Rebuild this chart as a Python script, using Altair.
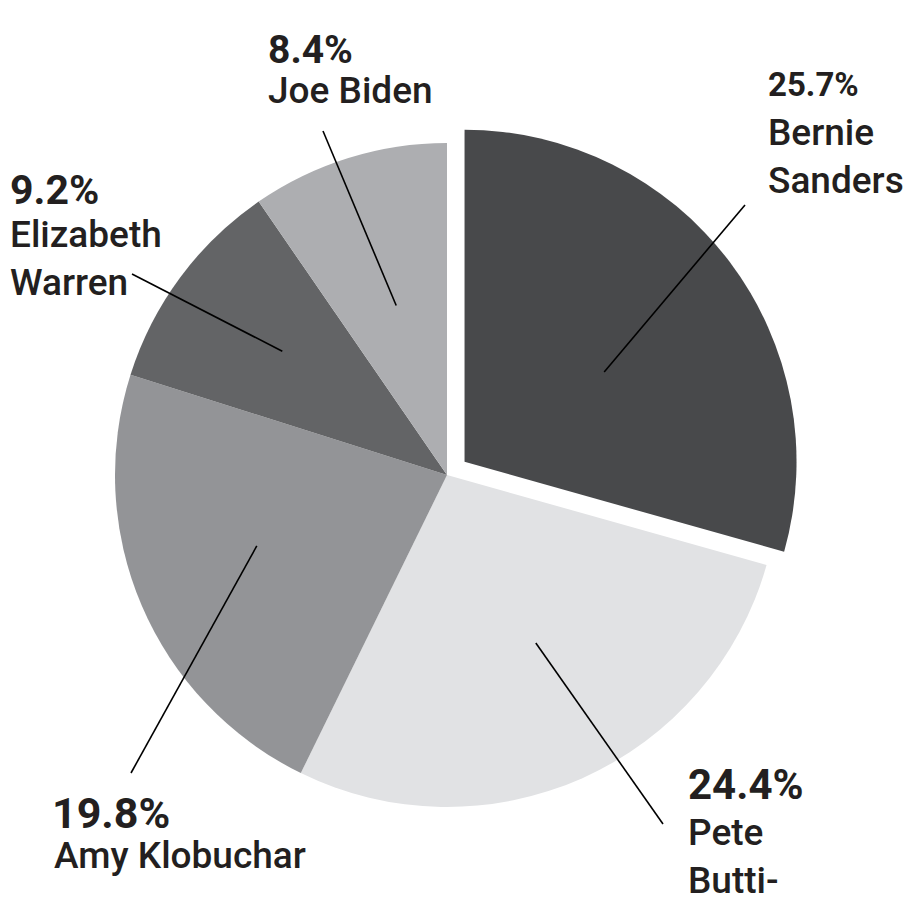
import math
import altair as alt
import pandas as pd

# ---------------- data ----------------
names = ["Bernie Sanders", "Pete Buttigieg", "Amy Klobuchar", "Elizabeth Warren", "Joe Biden"]
values = [25.7, 24.4, 19.8, 9.2, 8.4]
label_lines = [["Bernie", "Sanders"], ["Pete", "Butti-"], ["Amy Klobuchar"], ["Elizabeth", "Warren"], ["Joe Biden"]]
colors = ["#48494b", "#e1e2e4", "#939497", "#636466", "#adaeb1"]

# ---------------- layout ----------------
CX, CY, R = 439, 467, 332          # pie centre / radius (chart coords)
EXPLODE = 22                        # offset of the pulled-out slice
PULLED = "Bernie Sanders"
TEXT_COLOR = "#231f20"
PCT_FONT = "Roboto, sans-serif"
NAME_FONT = "Roboto, sans-serif"

label_layout = {
    "Bernie Sanders":   dict(pct_x=760, pct_y=88,  pct_size=33, name_x=760, name_y=137, lx=737, ly=197, r_in=166, dang=4.4),
    "Pete Buttigieg":   dict(pct_x=680, pct_y=791, pct_size=42, name_x=680, name_y=837, lx=655, ly=816, r_in=190, dang=-3.8),
    "Amy Klobuchar":    dict(pct_x=44,  pct_y=820, pct_size=43, name_x=46,  name_y=860, lx=123, ly=765, r_in=203, dang=2.7),
    "Elizabeth Warren": dict(pct_x=2,   pct_y=196, pct_size=41, name_x=2,   name_y=239, lx=124, ly=266, r_in=206, dang=0.4),
    "Joe Biden":        dict(pct_x=260, pct_y=55,  pct_size=39, name_x=260, name_y=95,  lx=315, ly=123, r_in=177, dang=0.6),
}

total = sum(values)
before = sum(values[: names.index(PULLED)])
mid_pulled = 2 * math.pi * (before + values[names.index(PULLED)] / 2) / total
PX = CX + EXPLODE * math.sin(mid_pulled)
PY = CY - EXPLODE * math.cos(mid_pulled)

rows = []
for i, (n, v, lines) in enumerate(zip(names, values, label_lines)):
    lay = label_layout[n]
    rows.append(dict(name=n, value=v, order=i, lines=lines,
                     cx=PX if n == PULLED else CX, cy=PY if n == PULLED else CY, **lay))
df = pd.DataFrame(rows)

color_scale = alt.Scale(domain=names, range=colors)
base = alt.Chart(df)

pie_rest = base.mark_arc(radius=R, stroke=None).encode(
    theta=alt.Theta("value:Q", stack=True),
    order=alt.Order("order:Q"),
    color=alt.Color("name:N", scale=color_scale, legend=None),
    opacity=alt.condition(alt.datum.name == PULLED, alt.value(0), alt.value(1)),
    x=alt.value(CX), y=alt.value(CY),
)
pie_pulled = base.mark_arc(radius=R, stroke=None).encode(
    theta=alt.Theta("value:Q", stack=True),
    order=alt.Order("order:Q"),
    color=alt.Color("name:N", scale=color_scale, legend=None),
    opacity=alt.condition(alt.datum.name == PULLED, alt.value(1), alt.value(0)),
    x=alt.value(PX), y=alt.value(PY),
)

leaders = base.transform_window(
    cum="sum(value)", sort=[alt.SortField("order")], frame=[None, 0]
).transform_joinaggregate(
    total="sum(value)"
).transform_calculate(
    mid="2*PI*(datum.cum - datum.value/2)/datum.total + datum.dang*PI/180",
).transform_calculate(
    x1="datum.cx + datum.r_in*sin(datum.mid)",
    y1="datum.cy - datum.r_in*cos(datum.mid)",
).mark_rule(color="#000000", strokeWidth=1.6).encode(
    x=alt.X("x1:Q", scale=None, axis=None),
    y=alt.Y("y1:Q", scale=None, axis=None),
    x2="lx:Q",
    y2="ly:Q",
)

pct_text = base.transform_calculate(
    pct="format(datum.value, '.1f') + '%'"
).mark_text(align="left", baseline="alphabetic", font=PCT_FONT, fontWeight="bold",
            color=TEXT_COLOR).encode(
    x=alt.X("pct_x:Q", scale=None, axis=None),
    y=alt.Y("pct_y:Q", scale=None, axis=None),
    size=alt.Size("pct_size:Q", scale=None, legend=None),
    text="pct:N",
)

name_text = base.mark_text(align="left", baseline="alphabetic", font=NAME_FONT, fontWeight=500,
                           fontSize=37, lineHeight=48, color=TEXT_COLOR).encode(
    x=alt.X("name_x:Q", scale=None, axis=None),
    y=alt.Y("name_y:Q", scale=None, axis=None),
    text="lines",
)

chart = alt.layer(pie_rest, pie_pulled, leaders, pct_text, name_text).properties(
    width=895, height=889, padding=0, autosize=alt.AutoSizeParams(type="none"),
    background="white",
).configure_view(stroke=None)

chart.save("out.html", embed_options={"renderer": "svg", "actions": False})
